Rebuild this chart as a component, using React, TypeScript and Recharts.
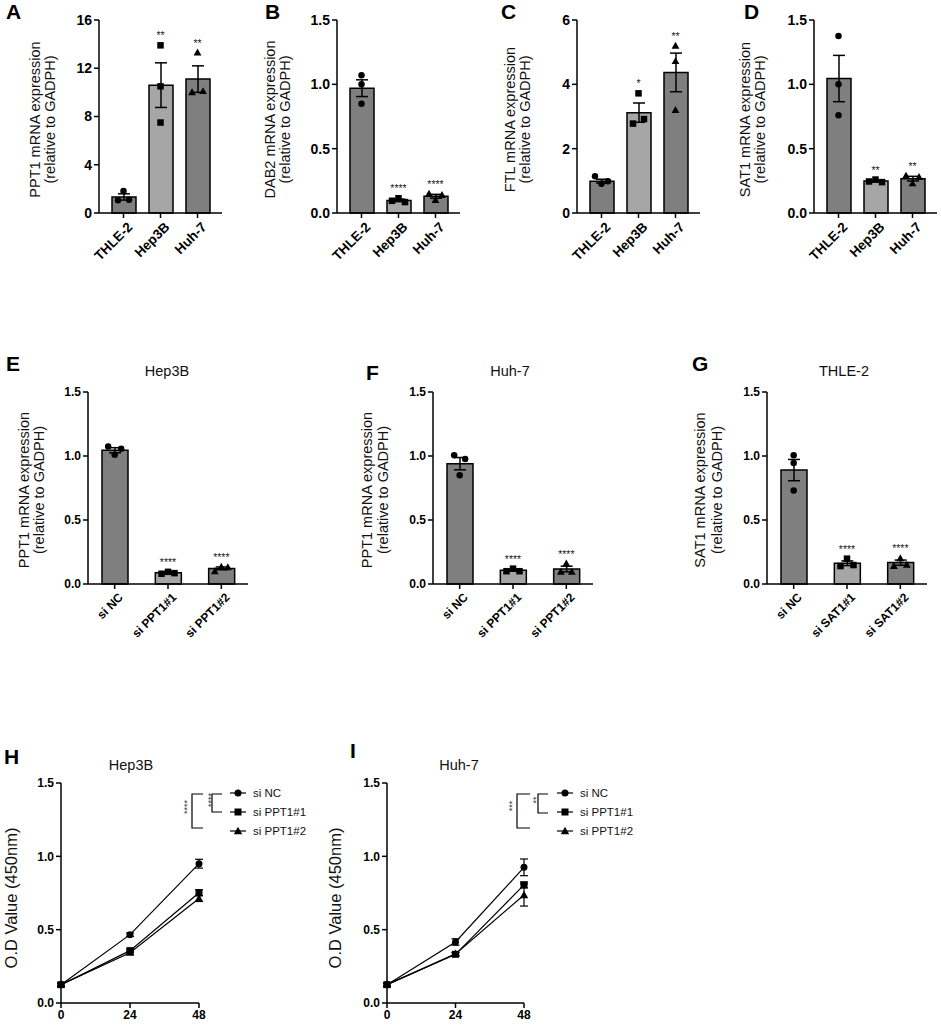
import React from "react";
import { ComposedChart, Bar, Cell, Scatter, ErrorBar, XAxis, YAxis, LineChart, Line } from "recharts";

const FONT = "'Liberation Sans', Arial, Helvetica, sans-serif";
const DARK = "#7f7f7f";
const LIGHT = "#a6a6a6";

// ---------------- data ----------------
const cellLines = ["THLE-2", "Hep3B", "Huh-7"];

const ppt1Mean = [1.33, 10.6, 11.1];
const ppt1Sem = [0.26, 1.85, 1.1];
const ppt1Reps = [[1.05, 1.83, 1.1], [13.9, 10.5, 7.5], [10.0, 13.3, 10.1]];
const ppt1Stars = ["", "**", "**"];

const dab2Mean = [0.97, 0.098, 0.13];
const dab2Sem = [0.065, 0.01, 0.015];
const dab2Reps = [[1.07, 1.0, 0.85], [0.095, 0.115, 0.085], [0.15, 0.1, 0.14]];
const dab2Stars = ["", "****", "****"];

const ftlMean = [0.99, 3.12, 4.37];
const ftlSem = [0.06, 0.3, 0.6];
const ftlReps = [[1.14, 0.91, 0.99], [2.78, 3.72, 2.92], [5.2, 4.72, 3.2]];
const ftlStars = ["", "*", "**"];

const sat1Mean = [1.045, 0.248, 0.267];
const sat1Sem = [0.18, 0.006, 0.018];
const sat1Reps = [[1.375, 1.0, 0.76], [0.245, 0.26, 0.24], [0.29, 0.23, 0.28]];
const sat1Stars = ["", "**", "**"];

const siPpt1Groups = ["si NC", "si PPT1#1", "si PPT1#2"];
const siSat1Groups = ["si NC", "si SAT1#1", "si SAT1#2"];
const kdStars = ["", "****", "****"];

const hepKdMean = [1.045, 0.087, 0.122];
const hepKdSem = [0.02, 0.005, 0.011];
const hepKdReps = [[1.075, 1.01, 1.057], [0.08, 0.095, 0.085], [0.1, 0.135, 0.13]];

const huhKdMean = [0.94, 0.107, 0.117];
const huhKdSem = [0.048, 0.007, 0.022];
const huhKdReps = [[1.005, 0.85, 0.976], [0.1, 0.12, 0.1], [0.095, 0.16, 0.095]];

const thleKdMean = [0.89, 0.162, 0.167];
const thleKdSem = [0.083, 0.018, 0.02];
const thleKdReps = [[1.005, 0.945, 0.73], [0.14, 0.198, 0.148], [0.14, 0.2, 0.15]];

const timepoints = [0, 24, 48];
const lineSeriesNames = ["si NC", "si PPT1#1", "si PPT1#2"];

const hepNc = [0.125, 0.466, 0.95];
const hepNcErr = [0.01, 0.012, 0.03];
const hepSi1 = [0.125, 0.357, 0.752];
const hepSi1Err = [0.01, 0.012, 0.02];
const hepSi2 = [0.125, 0.343, 0.712];
const hepSi2Err = [0.01, 0.01, 0.02];

const huhNc = [0.125, 0.416, 0.925];
const huhNcErr = [0.01, 0.022, 0.057];
const huhSi1 = [0.125, 0.332, 0.805];
const huhSi1Err = [0.01, 0.01, 0.02];
const huhSi2 = [0.125, 0.335, 0.736];
const huhSi2Err = [0.01, 0.01, 0.075];

// ---------------- helpers ----------------
function clusterOffsets(vals: number[], thr: number): number[] {
  const order = vals.map((_, i) => i).sort((a, b) => vals[a] - vals[b]);
  const groups: number[][] = [];
  let cur = [order[0]];
  for (let k = 1; k < order.length; k++) {
    if (vals[order[k]] - vals[order[k - 1]] < thr) cur.push(order[k]);
    else {
      groups.push(cur);
      cur = [order[k]];
    }
  }
  groups.push(cur);
  const off = vals.map(() => 0);
  groups.forEach((g) => {
    const members = [...g].sort((a, b) => a - b);
    const n = members.length;
    const step = n === 2 ? 11 : 6.5;
    members.forEach((m, j) => {
      off[m] = (j - (n - 1) / 2) * step;
    });
  });
  return off;
}

function Marker({ kind, cx, cy, size }: { kind: number; cx: number; cy: number; size: number }) {
  const s = size;
  if (kind === 0) return <circle cx={cx} cy={cy} r={s / 2} fill="#000" />;
  if (kind === 1) return <rect x={cx - s / 2} y={cy - s / 2} width={s} height={s} fill="#000" />;
  return (
    <polygon
      points={`${cx},${cy - s * 0.62} ${cx - s * 0.6},${cy + s * 0.45} ${cx + s * 0.6},${cy + s * 0.45}`}
      fill="#000"
    />
  );
}

const makeCatTick = (fs: number) => (tp: any) => {
  const { x, y, payload } = tp;
  const ax = x + 3;
  const ay = y + 1;
  return (
    <text
      x={ax}
      y={ay}
      dy={fs * 0.72}
      transform={`rotate(-45, ${ax}, ${ay})`}
      textAnchor="end"
      fontSize={fs}
      fontWeight={700}
      fontFamily={FONT}
      fill="#000"
    >
      {payload.value}
    </text>
  );
};

const makeYLabel = (lines: string[], offs: number[], fs: number, dyc: number) => (props: any) => {
  const vb = props.viewBox || {};
  const right = (vb.x || 0) + (vb.width || 0);
  const cy = (vb.y || 0) + (vb.height || 0) / 2 + dyc;
  return (
    <g>
      {lines.map((t, i) => (
        <text
          key={i}
          x={right + offs[i]}
          y={cy}
          transform={`rotate(-90, ${right + offs[i]}, ${cy})`}
          textAnchor="middle"
          dominantBaseline="central"
          fontSize={fs}
          fontFamily={FONT}
          fill="#111"
        >
          {t}
        </text>
      ))}
    </g>
  );
};

type BarPanelProps = {
  x0: number;
  y0: number;
  plotW: number;
  plotH: number;
  cats: string[];
  means: number[];
  sems: number[];
  reps: number[][];
  stars: string[];
  yMax: number;
  yTicks: number[];
  decimals: number;
  yLabel: string[];
  labelOffs: number[];
  labelDy: number;
  tickFs: number;
  catFs: number;
  barSize: number;
  pad: number;
  mr: number;
};

function BarPanel(p: BarPanelProps) {
  const rows = p.cats.map((c, i) => ({
    name: c,
    idx: i,
    mean: p.means[i],
    sem: p.sems[i],
    r0: p.reps[i][0],
    r1: p.reps[i][1],
    r2: p.reps[i][2],
    reps: p.reps[i],
    peak: Math.max(p.means[i] + p.sems[i], ...p.reps[i]),
    stars: p.stars[i],
  }));
  const thr = p.yMax * 0.036;
  const YW = 90;
  const MT = 14;
  const XH = 75;
  const repShape = (rep: number) => (sp: any) => {
    const row = sp.payload || sp;
    if (sp.cx == null || sp.cy == null || !row.reps) return <g />;
    const offs = clusterOffsets(row.reps, thr);
    return <Marker kind={row.idx} cx={sp.cx + offs[rep]} cy={sp.cy} size={6.5} />;
  };
  const starShape = (sp: any) => {
    const row = sp.payload || sp;
    if (!row.stars || sp.cx == null) return <g />;
    return (
      <text
        x={sp.cx}
        y={sp.cy - 6}
        textAnchor="middle"
        fontSize={10.5}
        fontFamily={FONT}
        style={{ fill: "#1a1a1a" }}
      >
        {row.stars}
      </text>
    );
  };
  const axisStyle = { stroke: "#000", strokeWidth: 1.5 };
  return (
    <div style={{ position: "absolute", left: p.x0 - YW, top: p.y0 - MT }}>
      <ComposedChart
        width={YW + p.plotW + p.mr}
        height={MT + p.plotH + XH}
        data={rows}
        margin={{ top: MT, right: p.mr, bottom: 0, left: 0 }}
      >
        <XAxis
          dataKey="name"
          type="category"
          interval={0}
          padding={{ left: p.pad, right: p.pad }}
          height={XH}
          axisLine={axisStyle}
          tickLine={axisStyle}
          tickSize={5}
          tick={makeCatTick(p.catFs)}
        />
        <YAxis
          type="number"
          domain={[0, p.yMax]}
          ticks={p.yTicks}
          interval={0}
          width={YW}
          axisLine={axisStyle}
          tickLine={axisStyle}
          tickSize={5}
          tickMargin={2}
          tickFormatter={(v: number) => v.toFixed(p.decimals)}
          tick={{ fontSize: p.tickFs, fontWeight: 700, fill: "#000", fontFamily: FONT }}
          label={makeYLabel(p.yLabel, p.labelOffs, 14.5, p.labelDy)}
        />
        <Bar dataKey="mean" barSize={p.barSize} stroke="#000" strokeWidth={1.5} isAnimationActive={false}>
          {rows.map((r, i) => (
            <Cell key={i} fill={i === 1 ? LIGHT : DARK} />
          ))}
          <ErrorBar dataKey="sem" width={6} stroke="#000" strokeWidth={1.5} direction="y" />
        </Bar>
        <Scatter dataKey="r0" shape={repShape(0)} isAnimationActive={false} />
        <Scatter dataKey="r1" shape={repShape(1)} isAnimationActive={false} />
        <Scatter dataKey="r2" shape={repShape(2)} isAnimationActive={false} />
        <Scatter dataKey="peak" shape={starShape} isAnimationActive={false} />
      </ComposedChart>
    </div>
  );
}

type LinePanelProps = {
  x0: number;
  y0: number;
  plotW: number;
  plotH: number;
  yw: number;
  labelOff: number;
  values: number[][];
  errors: number[][];
};

function LinePanel(p: LinePanelProps) {
  const rows = timepoints.map((t, i) => ({
    t,
    v0: p.values[0][i],
    e0: p.errors[0][i],
    v1: p.values[1][i],
    e1: p.errors[1][i],
    v2: p.values[2][i],
    e2: p.errors[2][i],
  }));
  const MT = 10;
  const MR = 8;
  const XH = 23;
  const axisStyle = { stroke: "#000", strokeWidth: 1.5 };
  const dot = (kind: number) => (dp: any) => {
    if (dp.cx == null || dp.cy == null) return <g key={`d${kind}-${dp.index}`} />;
    return (
      <g key={`d${kind}-${dp.index}`}>
        <Marker kind={kind} cx={dp.cx} cy={dp.cy} size={7} />
      </g>
    );
  };
  return (
    <div style={{ position: "absolute", left: p.x0 - p.yw, top: p.y0 - MT }}>
      <LineChart
        width={p.yw + p.plotW + MR}
        height={MT + p.plotH + XH}
        data={rows}
        margin={{ top: MT, right: MR, bottom: 0, left: 0 }}
      >
        <XAxis
          dataKey="t"
          type="number"
          domain={[0, 48]}
          ticks={timepoints}
          interval={0}
          height={XH}
          axisLine={axisStyle}
          tickLine={axisStyle}
          tickSize={5}
          tick={{ fontSize: 12, fontWeight: 700, fill: "#000", fontFamily: FONT }}
        />
        <YAxis
          type="number"
          domain={[0, 1.5]}
          ticks={[0, 0.5, 1, 1.5]}
          interval={0}
          width={p.yw}
          axisLine={axisStyle}
          tickLine={axisStyle}
          tickSize={5}
          tickMargin={2}
          tickFormatter={(v: number) => v.toFixed(1)}
          tick={{ fontSize: 12, fontWeight: 700, fill: "#000", fontFamily: FONT }}
          label={makeYLabel(["O.D Value (450nm)"], [p.labelOff], 16.5, 5)}
        />
        {[2, 1, 0].map((k) => (
          <Line
            key={k}
            dataKey={`v${k}`}
            stroke="#000"
            strokeWidth={1.2}
            dot={dot(k)}
            activeDot={false}
            isAnimationActive={false}
          >
            <ErrorBar dataKey={`e${k}`} width={4} stroke="#000" strokeWidth={1.2} direction="y" />
          </Line>
        ))}
      </LineChart>
    </div>
  );
}

function LegendAndBrackets({
  lineX,
  textX,
  rowsY,
  outer,
  inner,
}: {
  lineX: number;
  textX: number;
  rowsY: number[];
  outer: { x: number; x2: number; y1: number; y2: number; sx: number; sy: number; s: string };
  inner: { x: number; x2: number; y1: number; y2: number; sx: number; sy: number; s: string };
}) {
  return (
    <g>
      {lineSeriesNames.map((n, i) => (
        <g key={n}>
          <line x1={lineX} x2={lineX + 16} y1={rowsY[i]} y2={rowsY[i]} stroke="#000" strokeWidth={1.2} />
          <Marker kind={i} cx={lineX + 8} cy={rowsY[i]} size={7} />
          <text x={textX} y={rowsY[i]} dominantBaseline="central" fontSize={11.5} fontFamily={FONT} fill="#111">
            {n}
          </text>
        </g>
      ))}
      {[outer, inner].map((b, i) => (
        <g key={i}>
          <polyline
            points={`${b.x2},${b.y1} ${b.x},${b.y1} ${b.x},${b.y2} ${b.x2},${b.y2}`}
            fill="none"
            stroke="#000"
            strokeWidth={1.2}
          />
          <text
            x={b.sx}
            y={b.sy}
            transform={`rotate(-90, ${b.sx}, ${b.sy})`}
            textAnchor="middle"
            dominantBaseline="central"
            fontSize={9}
            fontFamily={FONT}
            style={{ fill: "#333" }}
          >
            {b.s}
          </text>
        </g>
      ))}
    </g>
  );
}

export default function App() {
  const topCommon = { y0: 20, plotW: 123, plotH: 193, tickFs: 14, catFs: 13.5, barSize: 24, pad: 6, labelDy: 3, mr: 4 };
  const midCommon = { y0: 392, plotW: 160, plotH: 192, tickFs: 12, catFs: 12, barSize: 26, pad: 0, labelDy: 2, mr: 4 };
  const letterStyle = { fontSize: 21, fontWeight: 700, fontFamily: FONT, fill: "#000" } as const;
  const titleStyle = { fontSize: 14.5, fontFamily: FONT, fill: "#111" } as const;
  return (
    <div
      style={{
        position: "absolute",
        left: 0,
        top: 0,
        width: 941,
        height: 1026,
        background: "#fff",
        overflow: "hidden",
      }}
    >
      <BarPanel
        {...topCommon}
        x0={99}
        cats={cellLines}
        means={ppt1Mean}
        sems={ppt1Sem}
        reps={ppt1Reps}
        stars={ppt1Stars}
        yMax={16}
        yTicks={[0, 4, 8, 12, 16]}
        decimals={0}
        yLabel={["PPT1 mRNA expression", "(relative to GADPH)"]}
        labelOffs={[-64, -49]}
      />
      <BarPanel
        {...topCommon}
        x0={337}
        cats={cellLines}
        means={dab2Mean}
        sems={dab2Sem}
        reps={dab2Reps}
        stars={dab2Stars}
        yMax={1.5}
        yTicks={[0, 0.5, 1, 1.5]}
        decimals={1}
        yLabel={["DAB2 mRNA expression", "(relative to GADPH)"]}
        labelOffs={[-67, -52]}
      />
      <BarPanel
        {...topCommon}
        x0={577}
        cats={cellLines}
        means={ftlMean}
        sems={ftlSem}
        reps={ftlReps}
        stars={ftlStars}
        yMax={6}
        yTicks={[0, 2, 4, 6]}
        decimals={0}
        yLabel={["FTL mRNA expression", "(relative to GADPH)"]}
        labelOffs={[-67, -52]}
      />
      <BarPanel
        {...topCommon}
        x0={814}
        mr={3}
        cats={cellLines}
        means={sat1Mean}
        sems={sat1Sem}
        reps={sat1Reps}
        stars={sat1Stars}
        yMax={1.5}
        yTicks={[0, 0.5, 1, 1.5]}
        decimals={1}
        yLabel={["SAT1 mRNA expression", "(relative to GADPH)"]}
        labelOffs={[-69, -54]}
      />
      <BarPanel
        {...midCommon}
        x0={88}
        cats={siPpt1Groups}
        means={hepKdMean}
        sems={hepKdSem}
        reps={hepKdReps}
        stars={kdStars}
        yMax={1.5}
        yTicks={[0, 0.5, 1, 1.5]}
        decimals={1}
        yLabel={["PPT1 mRNA expression", "(relative to GADPH)"]}
        labelOffs={[-64, -49]}
      />
      <BarPanel
        {...midCommon}
        x0={433}
        cats={siPpt1Groups}
        means={huhKdMean}
        sems={huhKdSem}
        reps={huhKdReps}
        stars={kdStars}
        yMax={1.5}
        yTicks={[0, 0.5, 1, 1.5]}
        decimals={1}
        yLabel={["PPT1 mRNA expression", "(relative to GADPH)"]}
        labelOffs={[-66, -50]}
      />
      <BarPanel
        {...midCommon}
        x0={767}
        cats={siSat1Groups}
        means={thleKdMean}
        sems={thleKdSem}
        reps={thleKdReps}
        stars={kdStars}
        yMax={1.5}
        yTicks={[0, 0.5, 1, 1.5]}
        decimals={1}
        yLabel={["SAT1 mRNA expression", "(relative to GADPH)"]}
        labelOffs={[-67, -50]}
      />
      <LinePanel
        x0={61}
        y0={783}
        plotW={138}
        plotH={220}
        yw={61}
        labelOff={-50}
        values={[hepNc, hepSi1, hepSi2]}
        errors={[hepNcErr, hepSi1Err, hepSi2Err]}
      />
      <LinePanel
        x0={387}
        y0={783}
        plotW={137}
        plotH={220}
        yw={70}
        labelOff={-52}
        values={[huhNc, huhSi1, huhSi2]}
        errors={[huhNcErr, huhSi1Err, huhSi2Err]}
      />
      <svg
        width={941}
        height={1026}
        style={{ position: "absolute", left: 0, top: 0, pointerEvents: "none" }}
      >
        <text x={6} y={19} {...letterStyle}>A</text>
        <text x={265} y={19} {...letterStyle}>B</text>
        <text x={501} y={19} {...letterStyle}>C</text>
        <text x={744} y={19} {...letterStyle}>D</text>
        <text x={6} y={371} {...letterStyle}>E</text>
        <text x={366} y={380} {...letterStyle}>F</text>
        <text x={692} y={371} {...letterStyle}>G</text>
        <text x={4} y={764} {...letterStyle}>H</text>
        <text x={350} y={758} {...letterStyle}>I</text>

        <text x={167} y={376} textAnchor="middle" {...titleStyle}>Hep3B</text>
        <text x={510} y={376} textAnchor="middle" {...titleStyle}>Huh-7</text>
        <text x={844} y={376} textAnchor="middle" {...titleStyle}>THLE-2</text>
        <text x={131} y={770} textAnchor="middle" {...titleStyle}>Hep3B</text>
        <text x={459} y={770} textAnchor="middle" {...titleStyle}>Huh-7</text>

        <LegendAndBrackets
          lineX={230}
          textX={253}
          rowsY={[793, 812, 831]}
          outer={{ x: 192, x2: 203, y1: 794, y2: 828, sx: 187, sy: 807, s: "****" }}
          inner={{ x: 212, x2: 222, y1: 794, y2: 812, sx: 211, sy: 800, s: "****" }}
        />
        <LegendAndBrackets
          lineX={557}
          textX={580}
          rowsY={[793, 812, 831]}
          outer={{ x: 517, x2: 530, y1: 794, y2: 828, sx: 512, sy: 806, s: "***" }}
          inner={{ x: 538, x2: 548, y1: 794, y2: 813, sx: 536, sy: 800, s: "**" }}
        />
      </svg>
    </div>
  );
}
